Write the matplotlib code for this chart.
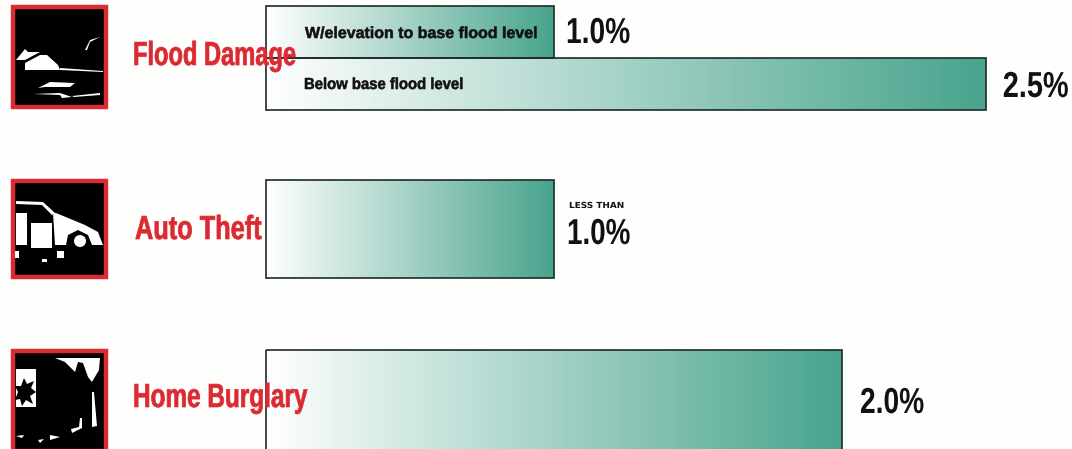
import numpy as np
import matplotlib.pyplot as plt
import matplotlib.patheffects as pe
from matplotlib.colors import LinearSegmentedColormap
from matplotlib.patches import Rectangle, Polygon, Circle
from matplotlib.transforms import Affine2D


# squeeze text sideways (no narrow font installed), optional extra weight
class Squeeze(pe.AbstractPathEffect):
    def __init__(self, sx, heavy=0.0, keep_right=False):
        super().__init__()
        self.sx = sx
        self.heavy = heavy
        self.keep_right = keep_right

    def draw_path(self, renderer, gc, tpath, affine, rgbFace=None):
        gc0 = renderer.new_gc()
        gc0.copy_properties(gc)
        if self.heavy > 0:
            gc0.set_linewidth(self.heavy)
            gc0.set_foreground(rgbFace)
        else:
            gc0.set_linewidth(0)
        shift = 0
        if self.keep_right:
            shift = tpath.get_extents().x1 * (1 - self.sx)
        squeeze = Affine2D().scale(self.sx, 1).translate(shift, 0)
        renderer.draw_path(gc0, tpath, squeeze + affine, rgbFace)
        gc0.restore()


# values
bar_labels = ['W/elevation to base flood level', 'Below base flood level']
bar_values = [1.0, 2.5, 1.0, 2.0]
value_text = ['1.0%', '2.5%', '1.0%', '2.0%']
group_names = ['Flood Damage', 'Auto Theft', 'Home Burglary']

# layout, in pixels of the picture
W, H = 1072, 449
X0 = 266
PX_PER_UNIT = 288
bar_tops = [6, 58, 180, 350]
bar_bottoms = [58, 110, 278, 470]
value_x_off = [12, 83, 13, 18]
value_ha = ['left', 'right', 'left', 'left']
value_base = [43, 97, 244, 413]
value_sx = [0.78, 0.80, 0.77, 0.78]
name_x = [133, 135, 133]
name_base = [65, 239, 407]
name_sx = [0.71, 0.76, 0.73]
label_x = [305, 304]
label_base = [38, 89]
label_sx = [1.0, 0.93]
icon_tops = [5, 179, 349]
icon_bottoms = [109, 279, 453]

RED = '#dc2a32'
GREEN = '#48a48d'
BG = '#fefefc'
FONT = ['Liberation Sans', 'DejaVu Sans']

cmap = LinearSegmentedColormap.from_list('fade', ['#ffffff', GREEN])
grad = np.linspace(0, 1, 256).reshape(1, -1)

fig = plt.figure(figsize=(W / 100, H / 100), dpi=100, facecolor=BG)

# bars, x axis in percent
ax = fig.add_axes([0, 0, 1, 1])
ax.axis('off')
for i in range(len(bar_values)):
    v = bar_values[i]
    ax.imshow(grad, extent=[0, v, bar_bottoms[i], bar_tops[i]], cmap=cmap,
              aspect='auto', zorder=2)
    ax.add_patch(Rectangle((0, bar_tops[i]), v, bar_bottoms[i] - bar_tops[i],
                           fill=False, ec='#1c2b28', lw=1.2, zorder=3))
    ax.text(v + value_x_off[i] / PX_PER_UNIT, value_base[i], value_text[i],
            family=FONT, weight='bold', size=26, color='#111111',
            va='baseline', ha=value_ha[i], zorder=5,
            path_effects=[Squeeze(value_sx[i], keep_right=value_ha[i] == 'right')])
ax.set_xlim(-X0 / PX_PER_UNIT, (W - X0) / PX_PER_UNIT)
ax.set_ylim(H, 0)

# overlay in pixel coordinates: labels and icons
px = fig.add_axes([0, 0, 1, 1])
px.axis('off')
px.patch.set_alpha(0)

for i in range(len(bar_labels)):
    px.text(label_x[i], label_base[i], bar_labels[i], family=FONT, weight='bold',
            size=11.5, color='#111111', va='baseline',
            path_effects=[Squeeze(label_sx[i], 0.4)])
px.text(569, 208, 'LESS THAN', family='DejaVu Sans', weight='bold', size=6,
        color='#111111', va='baseline', path_effects=[Squeeze(1.07)])

for i in range(3):
    px.text(name_x[i], name_base[i], group_names[i], family=FONT, weight='bold',
            size=24, color=RED, va='baseline',
            path_effects=[Squeeze(name_sx[i], 0.5)])
    px.add_patch(Rectangle((13, icon_tops[i] + 2), 93, icon_bottoms[i] - icon_tops[i] - 4,
                           fc='black', ec=RED, lw=3.2))

# icon 1, house and flood water
for pts in [[(25, 63), (40, 55), (47, 55), (58, 65), (60, 70), (25, 70)],
            [(16, 60), (25, 49), (28, 52), (40, 52), (25, 60)],
            [(60, 68), (103, 71), (103, 72), (60, 70)],
            [(38, 88), (50, 82), (75, 83), (70, 87), (45, 87)],
            [(33, 94), (60, 93), (72, 97), (62, 98), (60, 95)],
            [(72, 96), (100, 93), (100, 95), (74, 97)],
            [(87, 50), (90, 42), (100, 37), (90, 40), (85, 50)]]:
    px.add_patch(Polygon(pts, fc='white', ec='none'))

# icon 2, car
for pts in [[(16, 201), (43, 202), (55, 213), (52, 215), (42, 205), (16, 204)],
            [(16, 213), (27, 213), (27, 245), (16, 245)],
            [(31, 223), (52, 223), (52, 248), (31, 248)],
            [(53, 213), (56, 213), (85, 225), (98, 232), (103, 245), (92, 245),
             (88, 235), (78, 230), (68, 235), (66, 245), (55, 245)],
            [(15, 251), (19, 251), (19, 258), (15, 258)],
            [(57, 251), (64, 251), (64, 258), (57, 258)],
            [(42, 259), (47, 259), (47, 262), (42, 262)]]:
    px.add_patch(Polygon(pts, fc='white', ec='none'))
px.add_patch(Circle((80, 241), 6, fc='white', ec='none'))

# icon 3, broken window, curtain and vacuum
for pts in [[(16, 369), (36, 369), (36, 407), (16, 407)],
            [(55, 358), (100, 358), (99, 370), (92, 382), (88, 377), (83, 363),
             (78, 362), (75, 372), (65, 362)],
            [(92, 392), (94, 392), (97, 426), (92, 427)],
            [(80, 418), (82, 418), (82, 428), (72, 433), (71, 429), (79, 427)],
            [(50, 435), (60, 437), (50, 440)],
            [(38, 440), (44, 439), (40, 443)],
            [(16, 436), (24, 435), (22, 438)]]:
    px.add_patch(Polygon(pts, fc='white', ec='none'))
star = [(24, 378), (27, 384), (34, 381), (31, 388), (36, 392), (30, 396),
        (33, 404), (26, 400), (22, 406), (20, 399), (15, 400), (18, 392),
        (15, 386), (21, 386)]
px.add_patch(Polygon(star, fc='black', ec='none'))

px.set_xlim(0, W)
px.set_ylim(H, 0)
fig.savefig('out.png', dpi=100, facecolor=BG)
